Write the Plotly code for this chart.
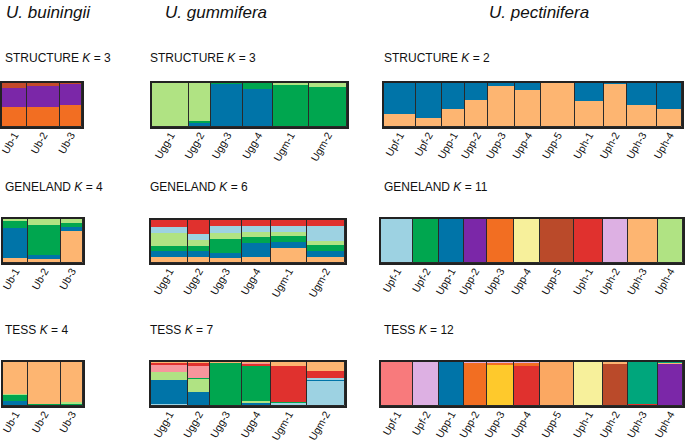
import plotly.graph_objects as go

W, H = 685, 442

# ---------------- data ----------------
ub_pops = ["Ub-1", "Ub-2", "Ub-3"]
ug_pops = ["Ugg-1", "Ugg-2", "Ugg-3", "Ugg-4", "Ugm-1", "Ugm-2"]
up_pops = ["Upf-1", "Upf-2", "Upp-1", "Upp-2", "Upp-3", "Upp-4", "Upp-5",
           "Uph-1", "Uph-2", "Uph-3", "Uph-4"]

# relative column widths (sample sizes)
ub_sizes = [25, 33, 22]
ug_sizes = [37, 22, 32, 29, 36, 38]
up_sizes = [32, 26, 24, 23, 27, 26, 34, 29, 24, 30, 25]

# membership proportions, each column listed bottom -> top as (cluster, q)
structure_ub = [
    [("orange", 0.45), ("purple", 0.43), ("rust", 0.12)],
    [("orange", 0.46), ("purple", 0.47), ("rust", 0.07)],
    [("orange", 0.51), ("purple", 0.47), ("rust", 0.02)],
]
structure_ug = [
    [("green", 0.03), ("lgreen", 0.97)],
    [("blue", 0.10), ("green", 0.04), ("lgreen", 0.86)],
    [("blue", 0.99), ("green", 0.01)],
    [("blue", 0.87), ("green", 0.13)],
    [("blue", 0.01), ("green", 0.94), ("lgreen", 0.05)],
    [("blue", 0.01), ("green", 0.91), ("lgreen", 0.08)],
]
structure_up_peach = [0.30, 0.21, 0.40, 0.61, 0.94, 0.83, 1.00, 0.59, 0.99, 0.51, 0.40]
structure_up = [[("peach", p), ("blue", round(1 - p, 2))] for p in structure_up_peach]

geneland_ub = [
    [("peach", 0.12), ("blue", 0.67), ("green", 0.16), ("lgreen", 0.05)],
    [("peach", 0.08), ("blue", 0.10), ("green", 0.69), ("lgreen", 0.13)],
    [("peach", 0.72), ("blue", 0.10), ("green", 0.09), ("lgreen", 0.09)],
]
geneland_ug = [
    [("peach", 0.14), ("blue", 0.13), ("green", 0.12), ("lgreen", 0.30), ("lblue", 0.14), ("red", 0.17)],
    [("peach", 0.14), ("blue", 0.13), ("green", 0.13), ("lgreen", 0.13), ("lblue", 0.15), ("red", 0.32)],
    [("peach", 0.11), ("blue", 0.12), ("green", 0.33), ("lgreen", 0.14), ("lblue", 0.15), ("red", 0.15)],
    [("peach", 0.13), ("blue", 0.33), ("green", 0.14), ("lgreen", 0.13), ("lblue", 0.13), ("red", 0.14)],
    [("peach", 0.35), ("blue", 0.14), ("green", 0.13), ("lgreen", 0.11), ("lblue", 0.14), ("red", 0.13)],
    [("peach", 0.13), ("blue", 0.14), ("green", 0.15), ("lgreen", 0.10), ("lblue", 0.34), ("red", 0.14)],
]
geneland_up_cluster = ["lblue", "green", "blue", "purple", "orange", "lyellow",
                       "brown", "red", "lavender", "peach", "lgreen"]
geneland_up_q = [1.0] * 11
geneland_up = [[(c, q)] for c, q in zip(geneland_up_cluster, geneland_up_q)]

tess_ub = [
    [("blue", 0.12), ("green", 0.15), ("lgreen", 0.01), ("peach", 0.72)],
    [("blue", 0.03), ("green", 0.01), ("lgreen", 0.00), ("peach", 0.96)],
    [("blue", 0.02), ("green", 0.03), ("lgreen", 0.03), ("peach", 0.92)],
]
tess_ug = [
    [("lblue", 0.04), ("blue", 0.56), ("lgreen", 0.17), ("pink2", 0.17), ("red", 0.04), ("peach", 0.02)],
    [("blue", 0.32), ("lgreen", 0.30), ("green", 0.02), ("pink2", 0.28), ("red", 0.06), ("peach", 0.02)],
    [("green", 0.98), ("red", 0.01), ("peach", 0.01)],
    [("blue", 0.08), ("lgreen", 0.03), ("green", 0.80), ("red", 0.045), ("pink2", 0.03), ("peach", 0.015)],
    [("blue", 0.03), ("lblue", 0.05), ("green", 0.02), ("red", 0.80), ("peach", 0.10)],
    [("lblue", 0.58), ("blue", 0.03), ("lblue", 0.02), ("red", 0.17), ("peach", 0.20)],
]
tess_up = [
    [("pink", 1.0)],
    [("lavender", 1.0)],
    [("blue", 1.0)],
    [("peach", 0.01), ("red", 0.02), ("orange", 0.95), ("lavender", 0.02)],
    [("yellow", 0.95), ("orange", 0.04), ("lavender", 0.01)],
    [("peach", 0.01), ("lblue", 0.01), ("red", 0.88), ("orange", 0.08), ("lavender", 0.02)],
    [("orange2", 1.0)],
    [("lavender", 0.03), ("lyellow", 0.97)],
    [("lavender", 0.03), ("brown", 0.93), ("peach", 0.04)],
    [("purple", 0.03), ("red", 0.02), ("teal", 0.95)],
    [("purple", 0.96), ("peach", 0.02), ("teal", 0.02)],
]

COLORS = {
    "orange": "#F26E22", "purple": "#7B27A8", "rust": "#C4492B",
    "lgreen": "#B0E383", "blue": "#0074A8", "green": "#00A64F",
    "peach": "#FDB571", "red": "#E0312E", "lblue": "#9DD2E2",
    "lyellow": "#F7F09B", "brown": "#BA4A2A", "lavender": "#DDB0E3",
    "pink": "#F87A7C", "pink2": "#F7959C", "yellow": "#FEC92C",
    "teal": "#00A67C", "orange2": "#FBA862",
}

FONT = "Arial, Liberation Sans, sans-serif"

# panel layout: (data, pops, sizes, x0, x1, y0, y1) in pixels
panels = [
    (structure_ub, ub_pops, ub_sizes, 2, 82, 83, 127),
    (structure_ug, ug_pops, ug_sizes, 152, 347, 83, 127),
    (structure_up, up_pops, up_sizes, 384, 682, 83, 127),
    (geneland_ub, ub_pops, ub_sizes, 3, 83, 219, 263),
    (geneland_ug, ug_pops, ug_sizes, 151, 345, 220, 263),
    (geneland_up, up_pops, up_sizes, 381, 683, 219, 263),
    (tess_ub, ub_pops, ub_sizes, 3, 83, 362, 406),
    (tess_ug, ug_pops, ug_sizes, 151, 345, 362, 406),
    (tess_up, up_pops, up_sizes, 381, 683, 362, 406),
]

fig = go.Figure()
layout = {}
for i, (data, pops, sizes, x0, x1, y0, y1) in enumerate(panels):
    n = i + 1
    xa = "x" if n == 1 else f"x{n}"
    ya = "y" if n == 1 else f"y{n}"
    centers, left = [], 0
    for s in sizes:
        centers.append(left + s / 2)
        left += s
    total = left
    nseg = max(len(col) for col in data)
    bases = [0.0] * len(data)
    for k in range(nseg):
        ys, cols, bs = [], [], []
        for j, col in enumerate(data):
            if k < len(col):
                c, q = col[k]
                ys.append(q)
                cols.append(COLORS[c])
            else:
                ys.append(0)
                cols.append("rgba(0,0,0,0)")
            bs.append(bases[j])
            bases[j] += ys[-1]
        fig.add_trace(go.Bar(
            x=centers, y=ys, base=bs, width=sizes,
            marker=dict(color=cols, line=dict(width=0)),
            xaxis=xa, yaxis=ya, showlegend=False, hoverinfo="skip",
        ))
    # column outlines
    fig.add_trace(go.Bar(
        x=centers, y=[1] * len(sizes), base=[0] * len(sizes), width=sizes,
        marker=dict(color="rgba(0,0,0,0)", line=dict(width=1, color="#2a2a2a")),
        xaxis=xa, yaxis=ya, showlegend=False, hoverinfo="skip",
    ))
    key_x = "xaxis" if n == 1 else f"xaxis{n}"
    key_y = "yaxis" if n == 1 else f"yaxis{n}"
    layout[key_x] = dict(
        domain=[x0 / W, x1 / W], range=[0, total], anchor=ya,
        tickvals=centers, ticktext=pops, tickangle=-60, ticks="",
        tickfont=dict(family=FONT, size=10.5, color="#111"),
        ticklabeloverflow="allow", ticklabelstandoff=-4,
        showgrid=False, zeroline=False, showline=True, mirror=True,
        linecolor="#222", linewidth=2, fixedrange=True, automargin=False,
    )
    layout[key_y] = dict(
        domain=[1 - y1 / H, 1 - y0 / H], range=[0, 1], anchor=xa,
        showticklabels=False, ticks="", showgrid=False, zeroline=False,
        showline=True, mirror=True, linecolor="#222", linewidth=2,
        fixedrange=True, automargin=False,
    )

titles = [("<i>U. buiningii</i>", 4), ("<i>U. gummifera</i>", 163), ("<i>U. pectinifera</i>", 487)]
row_labels = [
    ("STRUCTURE <i>K</i> = 3", 3, 58), ("STRUCTURE <i>K</i> = 3", 148, 58), ("STRUCTURE <i>K</i> = 2", 382, 58),
    ("GENELAND <i>K</i> = 4", 3, 187), ("GENELAND <i>K</i> = 6", 148, 187), ("GENELAND <i>K</i> = 11", 382, 187),
    ("TESS <i>K</i> = 4", 3, 330), ("TESS <i>K</i> = 7", 148, 330), ("TESS <i>K</i> = 12", 382, 330),
]
annotations = []
for t, x in titles:
    annotations.append(dict(text=t, x=x / W, y=1 - 12 / H, xref="paper", yref="paper",
                            xanchor="left", yanchor="middle", showarrow=False,
                            font=dict(family=FONT, size=17, color="#111")))
for t, x, y in row_labels:
    annotations.append(dict(text=t, x=x / W, y=1 - y / H, xref="paper", yref="paper",
                            xanchor="left", yanchor="middle", showarrow=False,
                            font=dict(family=FONT, size=12, color="#111")))

fig.update_layout(
    width=W, height=H, margin=dict(l=0, r=0, t=0, b=0, autoexpand=False),
    paper_bgcolor="white", plot_bgcolor="white",
    barmode="overlay", bargap=0, annotations=annotations, **layout,
)
fig.write_html("out.html", config={"displayModeBar": False},
               post_script="document.body.style.margin='0';")
